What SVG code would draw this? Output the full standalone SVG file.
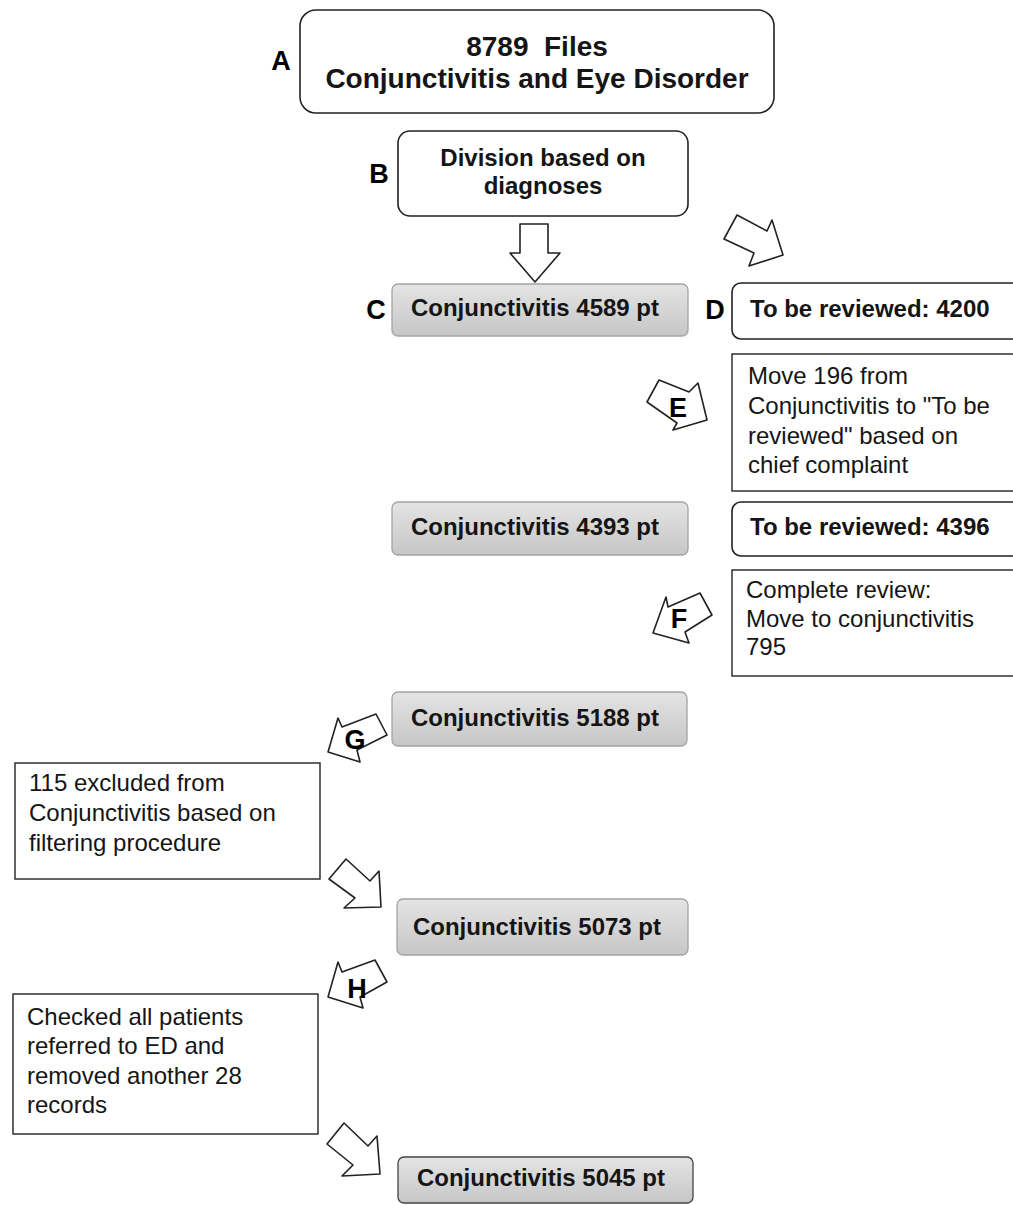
<svg xmlns="http://www.w3.org/2000/svg" width="1013" height="1205" viewBox="0 0 1013 1205">
<defs>
<linearGradient id="gray" x1="0" y1="0" x2="0" y2="1">
<stop offset="0" stop-color="#e4e4e4"/>
<stop offset="1" stop-color="#c6c6c6"/>
</linearGradient>
</defs>
<style>
text{font-family:"Liberation Sans",Arial,sans-serif;fill:#151515}
.b{font-weight:bold}
.lbl{font-weight:bold;font-size:27px;fill:#000;text-anchor:middle}
.rnd{fill:#fff;stroke:#222;stroke-width:1.6}
.sq{fill:#fff;stroke:#222;stroke-width:1.4}
.gb{fill:url(#gray);stroke:#a4a4a4;stroke-width:1.3}
.gt{font-weight:bold;font-size:24px;text-anchor:middle}
.rt{font-size:24px}
.arr{fill:#fff;stroke:#222;stroke-width:1.6;stroke-linejoin:round}
</style>
<rect width="1013" height="1205" fill="#fff"/>

<g id="connectors">
<polygon class="arr" points="520,224 548,224 548,253 560,253 535,282 510,253 520,253"/>
<polygon class="arr" points="737,215 767,231 772,220 783,255 749,266 754,253 724,239"/>
<polygon class="arr" points="659,380 689,392 698,383 707,420 673,430 677,423 647,402"/>
<polygon class="arr" points="700,593 712,615 685,632 689,643 653,633 666,597 668,607"/>
<polygon class="arr" points="376,714 387,735 357,750 360,762 328,752 338,718 342,727"/>
<polygon class="arr" points="346,859 370,881 379,871 381,907 344,908 355,898 329,879"/>
<polygon class="arr" points="375,960 387,982 360,997 363,1008 328,997 338,962 342,972"/>
<polygon class="arr" points="344,1123 368,1146 377,1136 380,1174 342,1176 353,1165 327,1144"/>
</g>

<g id="labels">
<text class="lbl" x="281" y="70">A</text>
<text class="lbl" x="379" y="183">B</text>
<text class="lbl" x="376" y="319">C</text>
<text class="lbl" x="715" y="319">D</text>
<text class="lbl" x="678" y="417">E</text>
<text class="lbl" x="679" y="628">F</text>
<text class="lbl" x="355" y="749">G</text>
<text class="lbl" x="357" y="998">H</text>
</g>

<g id="nodeA">
<rect class="rnd" x="300" y="10" width="474" height="103" rx="16"/>
<text class="b" x="537" y="56" font-size="28" text-anchor="middle" xml:space="preserve">8789  Files</text>
<text class="b" x="537" y="88" font-size="28" text-anchor="middle">Conjunctivitis and Eye Disorder</text>
</g>

<g id="nodeB">
<rect class="rnd" x="398" y="131" width="290" height="85" rx="12"/>
<text class="b" x="543" y="166" font-size="24" text-anchor="middle">Division based on</text>
<text class="b" x="543" y="194" font-size="24" text-anchor="middle">diagnoses</text>
</g>

<g id="nodeC">
<rect class="gb" x="392" y="284" width="296" height="52" rx="6"/>
<text class="gt" x="535" y="316">Conjunctivitis 4589 pt</text>
</g>

<g id="nodeD">
<rect class="rnd" x="732" y="283" width="300" height="56" rx="9"/>
<text class="b" x="750" y="317" font-size="24">To be reviewed: 4200</text>
</g>

<g id="nodeE">
<rect class="sq" x="732" y="354" width="300" height="137"/>
<text class="rt" x="748" y="384">Move 196 from</text>
<text class="rt" x="748" y="414">Conjunctivitis to "To be</text>
<text class="rt" x="748" y="444">reviewed" based on</text>
<text class="rt" x="748" y="473">chief complaint</text>
</g>

<g id="node4393">
<rect class="gb" x="392" y="502" width="296" height="53" rx="6"/>
<text class="gt" x="535" y="535">Conjunctivitis 4393 pt</text>
</g>

<g id="node4396">
<rect class="rnd" x="732" y="502" width="300" height="54" rx="9"/>
<text class="b" x="750" y="535" font-size="24">To be reviewed: 4396</text>
</g>

<g id="nodeF">
<rect class="sq" x="732" y="570" width="300" height="106"/>
<text class="rt" x="746" y="598">Complete review:</text>
<text class="rt" x="746" y="627">Move to conjunctivitis</text>
<text class="rt" x="746" y="655">795</text>
</g>

<g id="node5188">
<rect class="gb" x="392" y="692" width="295" height="54" rx="6"/>
<text class="gt" x="535" y="726">Conjunctivitis 5188 pt</text>
</g>

<g id="nodeG">
<rect class="sq" x="15" y="763" width="305" height="116"/>
<text class="rt" x="29" y="791">115 excluded from</text>
<text class="rt" x="29" y="821">Conjunctivitis based on</text>
<text class="rt" x="29" y="851">filtering procedure</text>
</g>

<g id="node5073">
<rect class="gb" x="397" y="899" width="291" height="56" rx="6"/>
<text class="gt" x="537" y="935">Conjunctivitis 5073 pt</text>
</g>

<g id="nodeH">
<rect class="sq" x="13" y="994" width="305" height="140"/>
<text class="rt" x="27" y="1025">Checked all patients</text>
<text class="rt" x="27" y="1054">referred to ED and</text>
<text class="rt" x="27" y="1084">removed another 28</text>
<text class="rt" x="27" y="1113">records</text>
</g>

<g id="node5045">
<rect class="gb" x="398" y="1157" width="295" height="46" rx="6" style="stroke:#444"/>
<text class="gt" x="541" y="1186">Conjunctivitis 5045 pt</text>
</g>
</svg>
